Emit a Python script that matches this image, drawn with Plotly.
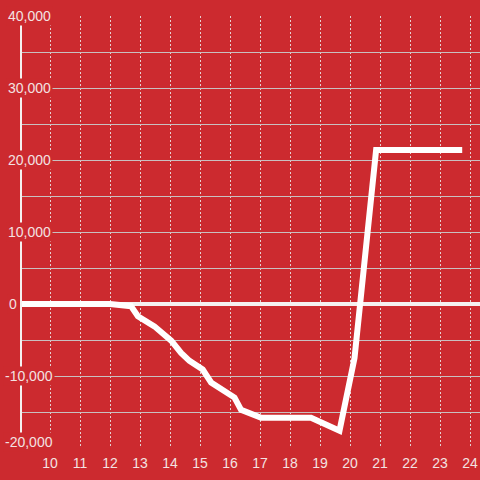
import plotly.graph_objects as go

# Data
x_vals = [9.0, 12.0, 12.7, 12.93, 13.48, 14.04, 14.37, 14.65, 15.09, 15.37,
          16.15, 16.37, 17.04, 18.7, 19.65, 20.15, 20.87, 23.74]
y_vals = [0, 0, -300, -1700, -3100, -5100, -6800, -7900, -9100, -10900,
          -13000, -14700, -15800, -15800, -17600, -7500, 21400, 21400]

x_ticks = list(range(10, 25))
y_ticks = [40000, 30000, 20000, 10000, 0, -10000, -20000]
y_labels = ["40,000", "30,000", "20,000", "10,000", "0", "-10,000", "-20,000"]

BG = "#CC2A2F"
TXT = "#F3E2E2"
FONT = "Liberation Sans"

x_range = [9.0, 24.333]
y_range = [-20000, 40000]

fig = go.Figure()
fig.add_trace(go.Scatter(x=x_vals, y=y_vals, mode="lines",
                         line=dict(color="white", width=6),
                         hoverinfo="skip", showlegend=False, cliponaxis=False))

fig.update_layout(
    width=480, height=480,
    margin=dict(l=20, r=0, t=16, b=32),
    paper_bgcolor=BG, plot_bgcolor=BG,
    font=dict(family=FONT, color=TXT, size=14),
    showlegend=False,
)
fig.update_xaxes(range=x_range, tickvals=x_ticks, showgrid=True,
                 gridcolor="#E6D0D0", griddash="2px,2px", gridwidth=1,
                 zeroline=False, showline=False, ticks="",
                 ticklabelstandoff=5,
                 tickfont=dict(size=14, color=TXT, family=FONT))
fig.update_yaxes(range=y_range, dtick=5000, showgrid=True,
                 gridcolor="#C9C0C0", gridwidth=1,
                 zeroline=True, zerolinecolor="#F5F0F0", zerolinewidth=4,
                 showticklabels=False, ticks="", showline=False)

# thick vertical axis line
fig.add_shape(type="line", xref="x", yref="y",
              x0=x_range[0], x1=x_range[0], y0=39000, y1=-18300,
              line=dict(color="#F5F0F0", width=4), layer="above")

# y labels with masking background
for v, lab in zip(y_ticks, y_labels):
    px_left = 6 if v > 0 else (7 if v == 0 else 3)
    fig.add_annotation(xref="paper", yref="y", x=(px_left - 20) / 460, y=v,
                       text=lab, showarrow=False, xanchor="left", yanchor="middle",
                       yshift=6 if v == y_range[0] else 0,
                       bgcolor=BG, borderpad=1,
                       font=dict(size=14, color=TXT, family=FONT))

fig.write_html("out.html", config={"displayModeBar": False},
               post_script="document.body.style.margin='0';document.body.style.background='%s';" % BG)
